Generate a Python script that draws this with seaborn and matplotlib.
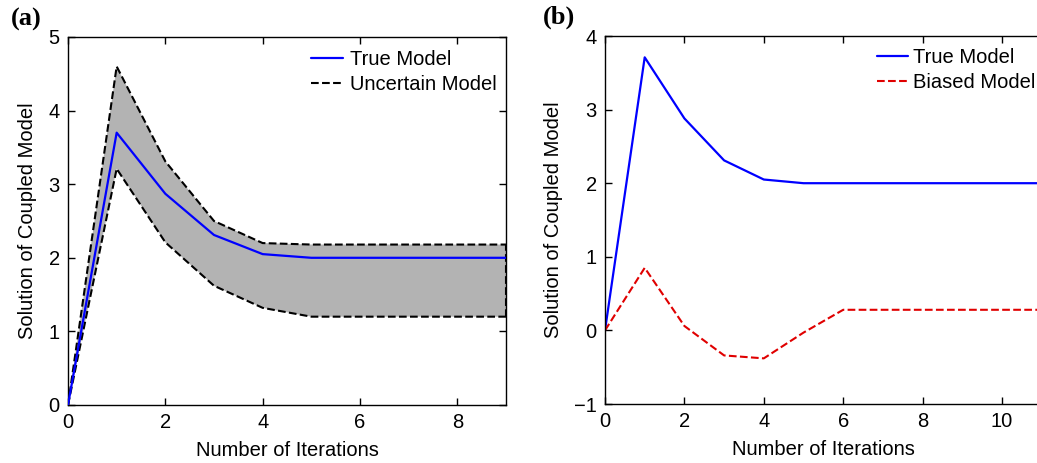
import numpy as np
import pandas as pd
import matplotlib
matplotlib.use("Agg")
import matplotlib.pyplot as plt
import seaborn as sns

# Data
iters_a = [0, 1, 2, 3, 4, 5, 6, 7, 8, 9]
true_a = [0, 3.70, 2.87, 2.31, 2.05, 2.00, 2.00, 2.00, 2.00, 2.00]
upper_a = [0, 4.60, 3.31, 2.50, 2.20, 2.18, 2.18, 2.18, 2.18, 2.18]
lower_a = [0, 3.21, 2.21, 1.62, 1.32, 1.20, 1.20, 1.20, 1.20, 1.20]

iters_b = [0, 1, 2, 3, 4, 5, 6, 7, 8, 9, 10, 11]
true_b = [0, 3.71, 2.88, 2.31, 2.05, 2.00, 2.00, 2.00, 2.00, 2.00, 2.00, 2.00]
biased_b = [0, 0.85, 0.06, -0.34, -0.38, -0.03, 0.28, 0.28, 0.28, 0.28, 0.28, 0.28]

sns.set_style("white")
plt.rcParams['font.family'] = ['Liberation Sans', 'DejaVu Sans']
plt.rcParams['axes.unicode_minus'] = True
for k in ("text.color", "axes.labelcolor", "xtick.color", "ytick.color"):
    plt.rcParams[k] = "black"
FS = 14.5

fig = plt.figure(figsize=(10.37, 4.63), dpi=100)
W, H = 1037, 463

def ax_rect(l, t, r, b):
    return [l / W, 1 - b / H, (r - l) / W, (b - t) / H]

axa = fig.add_axes(ax_rect(68, 37, 506, 405))
axb = fig.add_axes(ax_rect(605, 36, 605 + 11 * 39.7, 404))

df_a = pd.DataFrame({"x": iters_a, "true": true_a, "upper": upper_a, "lower": lower_a})
df_b = pd.DataFrame({"x": iters_b, "true": true_b, "biased": biased_b})

# Panel (a)
axa.fill_between(df_a["x"], df_a["lower"], df_a["upper"], facecolor="#b3b3b3",
                 edgecolor="none", zorder=1)
axa.plot([iters_a[-1], iters_a[-1]], [lower_a[-1], upper_a[-1]], color="black",
         ls="--", lw=1.5, zorder=2)
sns.lineplot(data=df_a, x="x", y="true", ax=axa, color="#0000ff", lw=1.6,
             label="True Model", zorder=3)
sns.lineplot(data=df_a, x="x", y="upper", ax=axa, color="black", lw=1.5,
             ls="--", label="Uncertain Model", zorder=2)
sns.lineplot(data=df_a, x="x", y="lower", ax=axa, color="black", lw=1.5,
             ls="--", zorder=2)
axa.set_xlim(0, 9)
axa.set_ylim(0, 5)
axa.set_xticks([0, 2, 4, 6, 8])
axa.set_yticks([0, 1, 2, 3, 4, 5])

# Panel (b)
sns.lineplot(data=df_b, x="x", y="true", ax=axb, color="#0000ff", lw=1.6,
             label="True Model")
sns.lineplot(data=df_b, x="x", y="biased", ax=axb, color="#e00000", lw=1.5,
             ls="--", label="Biased Model")
axb.set_xlim(0, 11)
axb.set_ylim(-1, 4)
axb.set_xticks([0, 2, 4, 6, 8, 10])
axb.set_yticks([-1, 0, 1, 2, 3, 4])

for ax, right in ((axa, True), (axb, False)):
    ax.set_xlabel("Number of Iterations", fontsize=FS, labelpad=6)
    ax.set_ylabel("Solution of Coupled Model", fontsize=FS, labelpad=8)
    ax.tick_params(direction="in", length=5, width=1, labelsize=FS,
                   top=True, right=right, bottom=True, left=True, pad=6)
    for s in ax.spines.values():
        s.set_linewidth(1.0)
        s.set_color("black")

leg_a = axa.legend(loc="upper left", frameon=False, fontsize=FS,
                   handlelength=1.6, handletextpad=0.35, labelspacing=0.3,
                   borderaxespad=0.0,
                   bbox_to_anchor=((311 - 8 - 68) / 438, 0.986))
leg_b = axb.legend(loc="upper left", frameon=False, fontsize=FS,
                   handlelength=1.55, handletextpad=0.25, labelspacing=0.3,
                   borderaxespad=0.0,
                   bbox_to_anchor=((877 - 8 - 605) / (11 * 39.7), 0.989))

fig.text(11 / W, 1 - 19 / H, "(a)", fontsize=19, fontweight="bold",
         family="Liberation Serif", va="center", ha="left")
fig.text(543 / W, 1 - 17 / H, "(b)", fontsize=19, fontweight="bold",
         family="Liberation Serif", va="center", ha="left")

fig.savefig("out.png", dpi=100)
